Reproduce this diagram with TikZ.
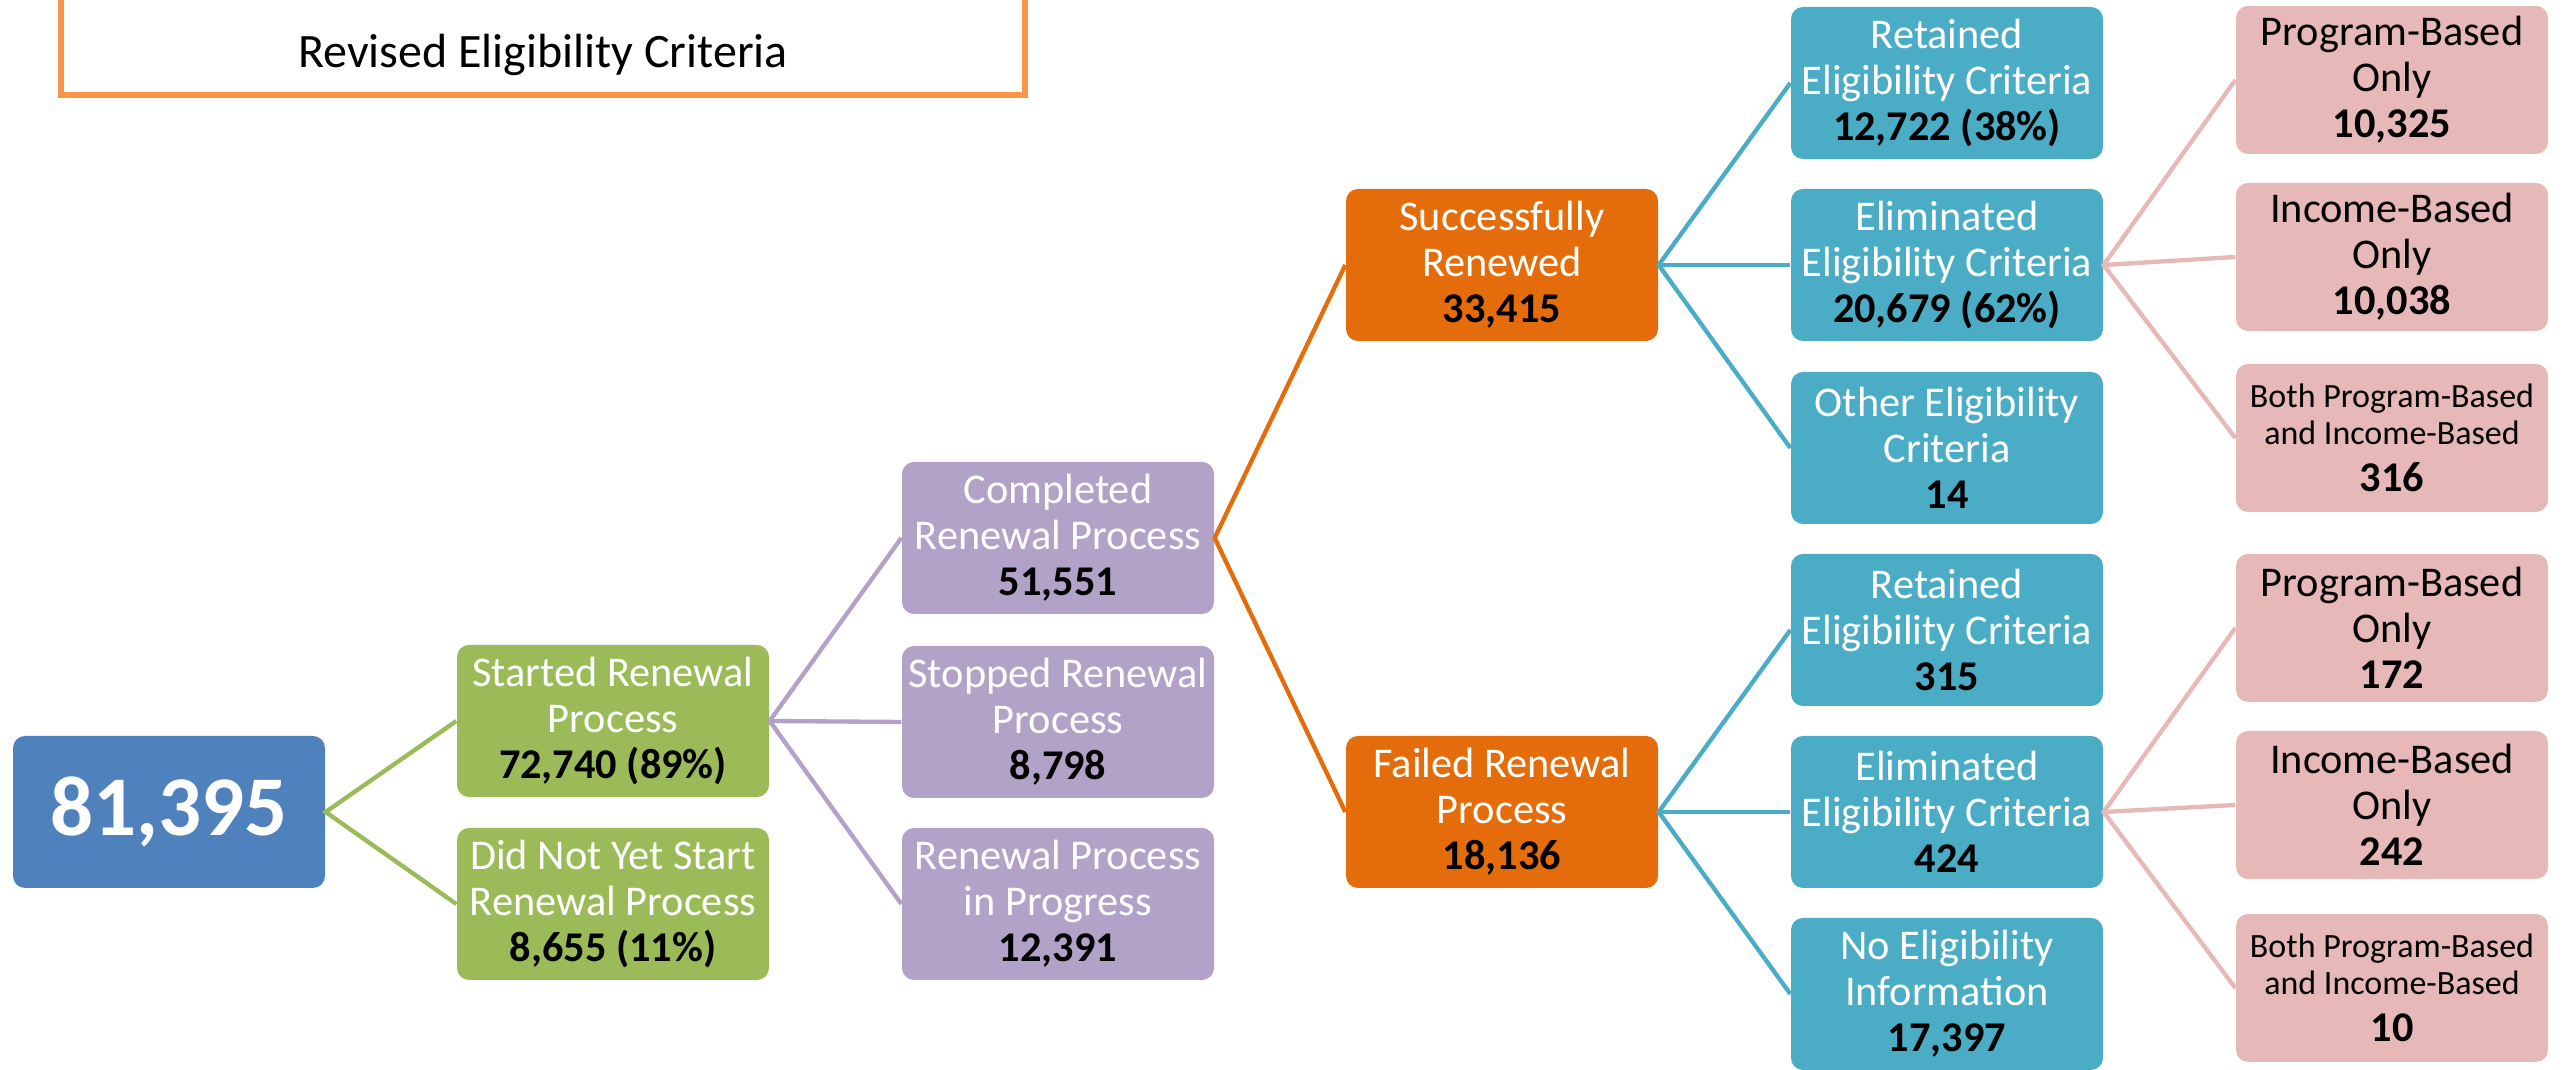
\documentclass[tikz,border=0pt]{standalone}
\usepackage{fontspec}
\setmainfont{Carlito}
\definecolor{rootblue}{HTML}{4F81BD}
\definecolor{cgreen}{HTML}{9BBB59}
\definecolor{cpurple}{HTML}{B2A2C7}
\definecolor{corange}{HTML}{E46C0A}
\definecolor{cteal}{HTML}{4BACC6}
\definecolor{cpink}{HTML}{E6B8B7}
\definecolor{ctitle}{HTML}{F79646}
\newcommand{\num}[1]{\textbf{\color{black}#1}}
\begin{document}
\begin{tikzpicture}[x=0.3pt,y=-0.3pt,
  box/.style={rectangle, rounded corners=3.6pt, minimum width=93.6pt, minimum height=45.6pt,
    inner sep=0pt, align=center, text=white, font=\fontsize{12.7}{13.8}\selectfont},
  rootbox/.style={box, fill=rootblue, font=\fontsize{25.5}{27}\selectfont\bfseries},
  gbox/.style={box, fill=cgreen},
  pbox/.style={box, fill=cpurple},
  obox/.style={box, fill=corange},
  tbox/.style={box, fill=cteal},
  kbox/.style={box, fill=cpink, text=black, minimum height=44.4pt},
  smallk/.style={kbox, font=\fontsize{10.2}{11}\selectfont},
  gline/.style={draw=cgreen, line width=1.3pt},
  pline/.style={draw=cpurple, line width=1.3pt},
  oline/.style={draw=corange, line width=1.3pt},
  tline/.style={draw=cteal, line width=1.3pt},
  kline/.style={draw=cpink, line width=1.3pt},
  titlebox/.style={rectangle, draw=ctitle, line width=1.6pt, fill=white, minimum width=289.2pt, minimum height=40.5pt, inner sep=0pt}
]
\useasboundingbox (0,0) rectangle (2572,1070);
% title
\node[titlebox] (title) at (543,27.5) {};
\node[font=\fontsize{14.4}{15}\selectfont, inner sep=0pt] (titletext) at (543,55) {Revised Eligibility Criteria};
% level 0
\node[rootbox] (root) at (169,812) {81,395};
% level 1
\node[gbox] (started) at (613,721) {Started Renewal\\Process\\\num{72,740 (89\%)}};
\node[gbox] (notstart) at (613,904) {Did Not Yet Start\\Renewal Process\\\num{8,655 (11\%)}};
% level 2
\node[pbox] (completed) at (1058,538) {Completed\\Renewal Process\\\num{51,551}};
\node[pbox] (stopped) at (1058,722) {Stopped Renewal\\Process\\\num{8,798}};
\node[pbox] (inprog) at (1058,904) {Renewal Process\\in Progress\\\num{12,391}};
% level 3
\node[obox] (success) at (1502,265) {Successfully\\Renewed\\\num{33,415}};
\node[obox] (failed) at (1502,812) {Failed Renewal\\Process\\\num{18,136}};
% level 4
\node[tbox] (ret1) at (1947,83) {Retained\\Eligibility Criteria\\\num{12,722 (38\%)}};
\node[tbox] (elim1) at (1947,265) {Eliminated\\Eligibility Criteria\\\num{20,679 (62\%)}};
\node[tbox] (other) at (1947,448) {Other Eligibility\\Criteria\\\num{14}};
\node[tbox] (ret2) at (1947,630) {Retained\\Eligibility Criteria\\\num{315}};
\node[tbox] (elim2) at (1947,812) {Eliminated\\Eligibility Criteria\\\num{424}};
\node[tbox] (noinfo) at (1947,994) {No Eligibility\\Information\\\num{17,397}};
% level 5
\node[kbox] (prog1) at (2392,80) {Program-Based\\Only\\\textbf{10,325}};
\node[kbox] (inc1) at (2392,257) {Income-Based\\Only\\\textbf{10,038}};
\node[smallk] (both1) at (2392,438) {Both Program-Based\\and Income-Based\\[3pt]{\fontsize{12.7}{13.8}\selectfont\textbf{316}}};
\node[kbox] (prog2) at (2392,628) {Program-Based\\Only\\\textbf{172}};
\node[kbox] (inc2) at (2392,805) {Income-Based\\Only\\\textbf{242}};
\node[smallk] (both2) at (2392,988) {Both Program-Based\\and Income-Based\\[3pt]{\fontsize{12.7}{13.8}\selectfont\textbf{10}}};
% connectors
\draw[gline] (started.west) -- (root.east) -- (notstart.west);
\draw[pline] (completed.west) -- (started.east) -- (inprog.west);
\draw[pline] (started.east) -- (stopped.west);
\draw[oline] (success.west) -- (completed.east) -- (failed.west);
\draw[tline] (ret1.west) -- (success.east) -- (other.west);
\draw[tline] (success.east) -- (elim1.west);
\draw[tline] (ret2.west) -- (failed.east) -- (noinfo.west);
\draw[tline] (failed.east) -- (elim2.west);
\draw[kline] (prog1.west) -- (elim1.east) -- (both1.west);
\draw[kline] (elim1.east) -- (inc1.west);
\draw[kline] (prog2.west) -- (elim2.east) -- (both2.west);
\draw[kline] (elim2.east) -- (inc2.west);
\end{tikzpicture}
\end{document}
